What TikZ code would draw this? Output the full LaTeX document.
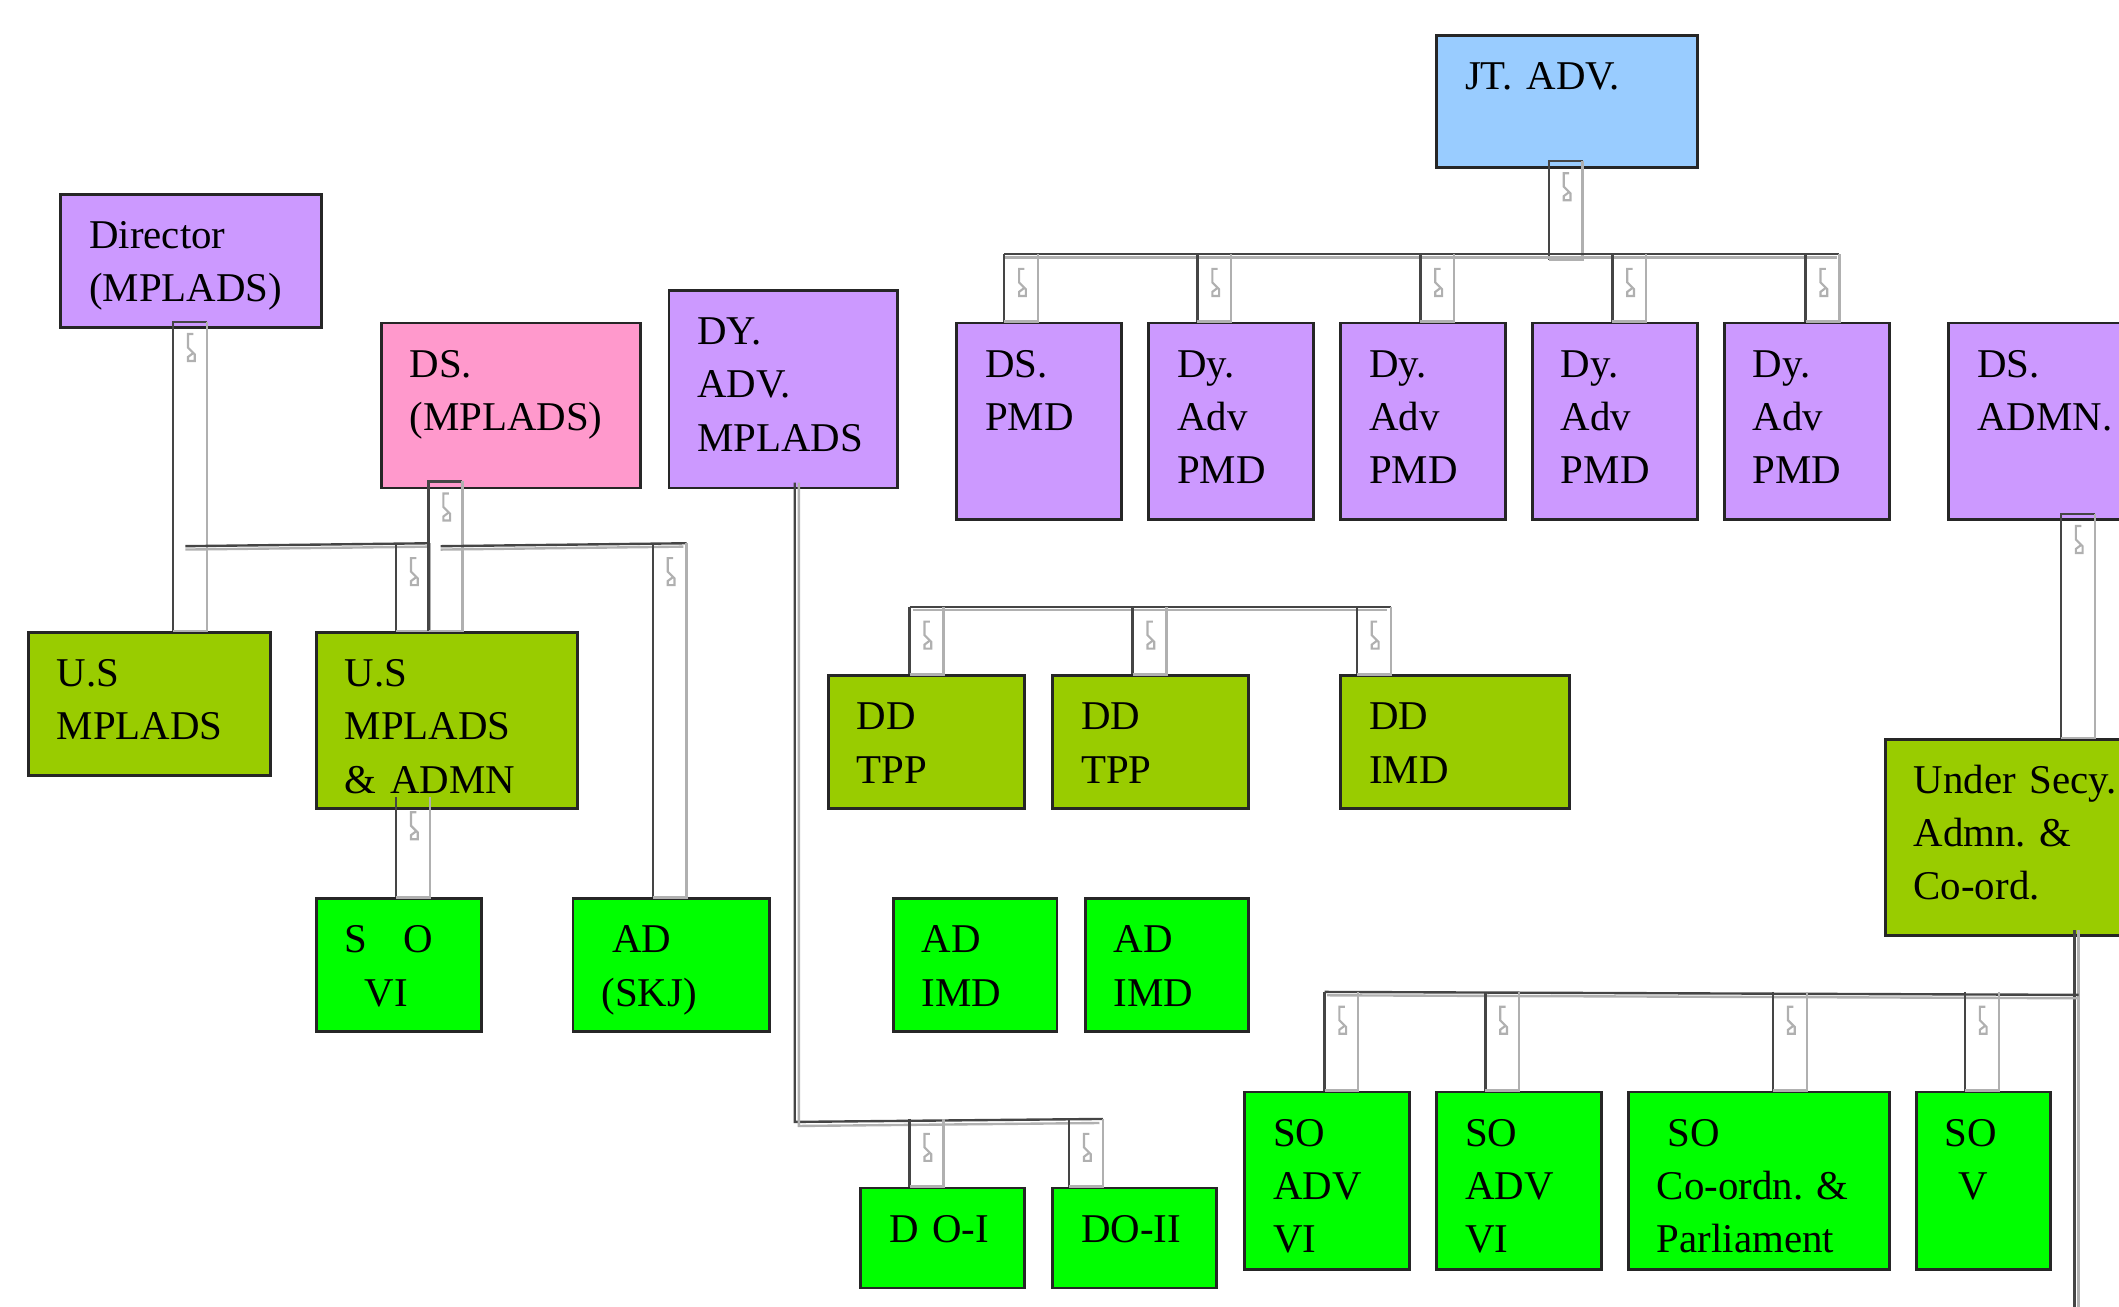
\documentclass[tikz,border=0pt]{standalone}
\usepackage{fontspec}
\newfontfamily\orgfont{Liberation Serif}
\usetikzlibrary{calc}
\definecolor{sky}{HTML}{99CCFF}
\definecolor{lilac}{HTML}{CC99FF}
\definecolor{rose}{HTML}{FF99CC}
\definecolor{leaf}{HTML}{99CC00}
\definecolor{grass}{HTML}{00FF00}
\definecolor{pipeink}{HTML}{454545}
\definecolor{pipeshade}{HTML}{B0B0B0}
\tikzset{post/.style={draw=black!85,line width=.6pt,anchor=north west,inner xsep=.21cm,inner ysep=0pt,text height=.40cm,align=left,font=\orgfont\fontsize{8.6pt}{11.2pt}\selectfont\frenchspacing},pipeedge/.style={draw=pipeink,line width=.5pt},pipeside/.style={draw=pipeshade,line width=.5pt},pipemark/.style={draw=pipeshade,line width=.45pt}}
\newcommand{\pipe}[2]{\draw[pipeedge] ($(#1)+(25,0)$) -- (#1) -- (#2); \draw[pipeside] ($(#1)+(25,0)$) -- ($(#2)+(25,0)$) -- (#2); \draw[pipemark] ($(#1)+(15,9)$) -- ++(-4,0) -- ++(0,10) -- ++(5,5) -- ++(0,5) -- ++(-5,0) -- ++(0,-3) -- ++(4,-3);}
\newcommand{\drop}[3]{\draw[pipeedge] ($(#1.north)+(#2,-#3)$) -- ($(#1.north)+(#2,0)$); \draw[pipeside] ($(#1.north)+(#2+25,-#3)$) -- ($(#1.north)+(#2+25,0)$) -- ($(#1.north)+(#2,0)$); \draw[pipemark] ($(#1.north)+(#2+15,-#3+11)$) -- ++(-4,0) -- ++(0,10) -- ++(5,5) -- ++(0,5) -- ++(-5,0) -- ++(0,-3) -- ++(4,-3);}
\begin{document}
\begin{tikzpicture}[x=.01cm,y=-.01cm]
\useasboundingbox (0,0) rectangle (1568,967);
% top row
\node[post,fill=sky,text width=1.51cm,text depth=.58cm] (jt) at (1062,25) {JT. ADV.};
\node[post,fill=lilac,text width=1.51cm,text depth=.58cm] (dir) at (44,143) {Director\\(MPLADS)};
\node[post,fill=rose,text width=1.50cm,text depth=.82cm] (dsm) at (281,238) {DS.\\(MPLADS)};
\node[post,fill=lilac,text width=1.27cm,text depth=1.06cm] (dyadv) at (494,214) {DY.\\ADV.\\MPLADS};
\node[post,fill=lilac,text width=.80cm,text depth=1.05cm] (dspmd) at (707,238) {DS.\\PMD};
\node[post,fill=lilac,text width=.80cm,text depth=1.05cm] (dy1) at (849,238) {Dy.\\Adv\\PMD};
\node[post,fill=lilac,text width=.80cm,text depth=1.05cm] (dy2) at (991,238) {Dy.\\Adv\\PMD};
\node[post,fill=lilac,text width=.80cm,text depth=1.05cm] (dy3) at (1133,238) {Dy.\\Adv\\PMD};
\node[post,fill=lilac,text width=.80cm,text depth=1.05cm] (dy4) at (1275,238) {Dy.\\Adv\\PMD};
\node[post,fill=lilac,text width=1.08cm,text depth=1.05cm] (dsadmn) at (1441,238) {DS.\\ADMN.};
% middle row
\node[post,fill=leaf,text width=1.37cm,text depth=.66cm] (us1) at (20,467) {U.S\\MPLADS};
\node[post,fill=leaf,text width=1.51cm,text depth=.90cm] (us2) at (233,467) {U.S\\MPLADS\\\& ADMN};
\node[post,fill=leaf,text width=1.03cm,text depth=.58cm] (dd1) at (612,499) {DD\\TPP};
\node[post,fill=leaf,text width=1.03cm,text depth=.58cm] (dd2) at (778,499) {DD\\TPP};
\node[post,fill=leaf,text width=1.27cm,text depth=.58cm] (dd3) at (991,499) {DD\\IMD};
\node[post,fill=leaf,text width=1.58cm,text depth=1.05cm] (usec) at (1394,546) {Under Secy.\\Admn. \&\\Co-ord.};
% bottom rows
\node[post,fill=grass,text width=.80cm,text depth=.58cm] (so6) at (233,664) {S\hspace{.27cm}O\\\hspace*{.15cm}VI};
\node[post,fill=grass,text width=1.03cm,text depth=.58cm] (adskj) at (423,664) {\hspace*{.08cm}AD\\(SKJ)};
\node[post,fill=grass,text width=.79cm,text depth=.58cm] (adimd1) at (660,664) {AD\\IMD};
\node[post,fill=grass,text width=.79cm,text depth=.58cm] (adimd2) at (802,664) {AD\\IMD};
\node[post,fill=grass,text width=.79cm,text depth=.34cm] (doi) at (636,878) {D O-I};
\node[post,fill=grass,text width=.79cm,text depth=.34cm] (doii) at (778,878) {DO-II};
\node[post,fill=grass,text width=.80cm,text depth=.91cm] (soadv1) at (920,807) {SO\\ADV\\VI};
\node[post,fill=grass,text width=.80cm,text depth=.91cm] (soadv2) at (1062,807) {SO\\ADV\\VI};
\node[post,fill=grass,text width=1.51cm,text depth=.91cm] (socoord) at (1204,807) {\hspace*{.08cm}SO\\Co-ordn. \&\\Parliament};
\node[post,fill=grass,text width=.57cm,text depth=.91cm] (sov) at (1417,807) {SO\\\hspace*{.1cm}V};
% JT. ADV. to PMD
\coordinate (jtT) at ($(jt.south)+(-13.5,-6)$);
\coordinate (jtB) at ($(jtT)+(0,73)$);
\pipe{jtT}{jtB}
\draw[pipeedge] ($(dspmd.north)+(-26,-50)$) -- ($(dy4.north)+(24,-50)$);
\draw[pipeside] ($(dspmd.north)+(-26,-47.5)$) -- ($(dy4.north)+(22,-47.5)$);
\drop{dspmd}{-26}{50}
\drop{dy1}{-25}{50}
\drop{dy2}{-2}{50}
\drop{dy3}{-2}{50}
\drop{dy4}{-1}{50}
% Director and DS. (MPLADS)
\coordinate (dirT) at ($(dir.south)+(-13.5,-5)$);
\coordinate (dirB) at (dirT |- us1.north);
\pipe{dirT}{dirB}
\draw[pipeedge] ($(dirT)+(9,166)$) -- ($(us2.north)+(-12.5,-65)$);
\draw[pipeside] ($(dirT)+(9,168.5)$) -- ($(us2.north)+(-12.5,-62.5)$);
\drop{us2}{-37.5}{65}
\coordinate (dsmT) at ($(dsm.south)+(-61,-6)$);
\coordinate (dsmB) at (dsmT |- us2.north);
\pipe{dsmT}{dsmB}
\draw[pipeedge] ($(dsmT)+(9,48)$) -- ($(adskj.north)+(11.5,-262)$);
\draw[pipeside] ($(dsmT)+(9,50.5)$) -- ($(adskj.north)+(9,-259.5)$);
\drop{adskj}{-13.5}{262}
\drop{so6}{-2}{74}
% DY. ADV. MPLADS to DO
\coordinate (dyT) at ($(dyadv.south)+(8.5,-5)$);
\coordinate (dyB) at ($(dyT)+(0,473)$);
\draw[pipeedge] (dyT) -- (dyB) -- ($(doii.north)+(-23.5,-50)$);
\draw[pipeside] ($(dyT)+(3,0)$) -- ($(dyB)+(3,3)$) -- ($(doii.north)+(-26,-47)$);
\drop{doi}{-24.5}{50}
\drop{doii}{-48.5}{50}
% DD row
\draw[pipeedge] ($(dd1.north)+(-12.5,-50)$) -- ($(dd3.north)+(-47.5,-50)$);
\draw[pipeside] ($(dd1.north)+(-10,-47.5)$) -- ($(dd3.north)+(-50,-47.5)$);
\drop{dd1}{-12.5}{50}
\drop{dd2}{-13.5}{50}
\drop{dd3}{-72.5}{50}
% DS. ADMN. and Under Secy.
\coordinate (admT) at ($(dsadmn.south)+(8,-5)$);
\coordinate (admB) at (admT |- usec.north);
\pipe{admT}{admB}
\coordinate (usT) at ($(usec.south)+(40,-5)$);
\coordinate (usB) at ($(usT)+(0,300)$);
\draw[pipeedge] (usT) -- (usB);
\draw[pipeside] ($(usT)+(3,0)$) -- ($(usB)+(3,0)$);
\draw[pipeedge] ($(soadv1.north)+(-2,-73)$) -- ($(usT)+(3,48)$);
\draw[pipeside] ($(soadv1.north)+(0,-70.5)$) -- ($(usT)+(3,50.5)$);
\drop{soadv1}{-2}{73}
\drop{soadv2}{-25}{73}
\drop{socoord}{10.5}{73}
\drop{sov}{-13.5}{73}
\end{tikzpicture}
\end{document}
